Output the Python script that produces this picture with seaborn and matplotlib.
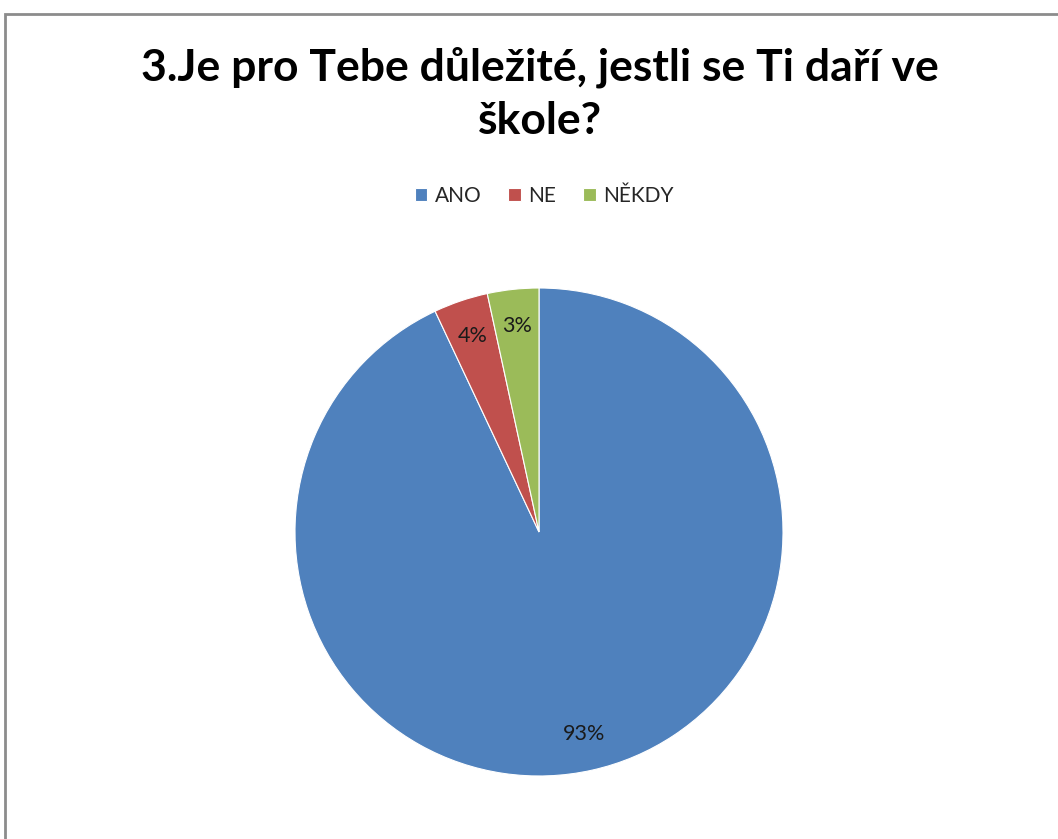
import matplotlib
matplotlib.use("Agg")
import matplotlib.pyplot as plt
from matplotlib.patches import Rectangle
import seaborn as sns

# Survey answers (share of respondents, %)
categories = ["ANO", "NE", "NĚKDY"]
shares = [93.0, 3.6, 3.4]
title_text = "3.Je pro Tebe důležité, jestli se Ti daří ve\nškole?"

sns.set_theme(style="white")
plt.rcParams["font.family"] = ["Lato", "DejaVu Sans"]

colors = ["#4F81BD", "#C0504D", "#9BBB59"]

W, H = 1058, 839
fig = plt.figure(figsize=(W / 100, H / 100), dpi=100)
fig.patch.set_facecolor("white")

# chart frame (runs off the right and bottom edges)
fig.patches.append(Rectangle((5 / W, -0.1), 1.2, (H - 14) / H + 0.1,
                             transform=fig.transFigure, fill=False,
                             edgecolor="#8c8c8c", linewidth=2))

cx, cy, r = 539, 532, 244
ax = fig.add_axes([(cx - r) / W, (H - cy - r) / H, 2 * r / W, 2 * r / H])
wedges, texts, autotexts = ax.pie(
    shares, colors=colors, startangle=90, counterclock=False,
    autopct="%.0f%%", pctdistance=0.85,
    wedgeprops=dict(edgecolor="white", linewidth=0.8),
    textprops=dict(fontsize=15.5, color="#1a1a1a"))
ax.set_xlim(-1, 1)
ax.set_ylim(-1, 1)
ax.set_aspect("equal")
ax.axis("off")

fig.text(540 / W, 1 - 94 / H, title_text, ha="center", va="center",
         fontsize=32, fontweight="bold", color="black", linespacing=1.4)

fig.legend(wedges, categories, loc="center", bbox_to_anchor=(544 / W, 1 - 196 / H),
           ncol=3, frameon=False, fontsize=15, handlelength=0.6, handleheight=0.6,
           handletextpad=0.35, columnspacing=1.3)

fig.savefig("out.png", dpi=100, facecolor="white")
